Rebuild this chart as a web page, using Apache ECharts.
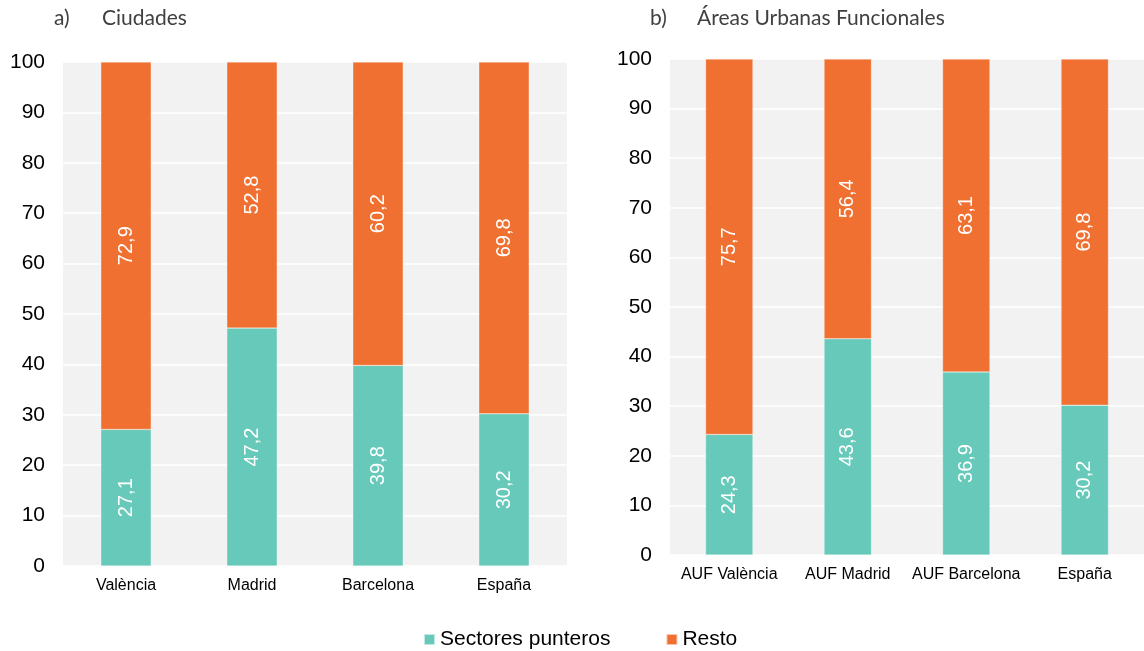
<!DOCTYPE html>
<html>
<head>
<meta charset="utf-8">
<script src="https://cdn.jsdelivr.net/npm/echarts@6/dist/echarts.min.js"></script>
<style>html,body{margin:0;padding:0;background:#fff;}#c{width:1144px;height:651px;}</style>
</head>
<body>
<div id="c"></div>
<script>
var catsA = ['València', 'Madrid', 'Barcelona', 'España'];
var catsB = ['AUF València', 'AUF Madrid', 'AUF Barcelona', 'España'];
var punterosA = [27.1, 47.2, 39.8, 30.2];
var restoA = [72.9, 52.8, 60.2, 69.8];
var punterosB = [24.3, 43.6, 36.9, 30.2];
var restoB = [75.7, 56.4, 63.1, 69.8];
var seriesNames = ['Sectores punteros', 'Resto'];
var titleA = ['a)', 'Ciudades'];
var titleB = ['b)', 'Áreas Urbanas Funcionales'];

var TEAL = '#66C9B9', ORANGE = '#EF7030';
var FONT = 'Liberation Sans, Arial, sans-serif';
var chart = echarts.init(document.getElementById('c'));
function fmt(p){ return p.value.toFixed(1).replace('.', ','); }
var lbl = {show:true, position:'inside', rotate:90, color:'#fff', fontSize:20, fontFamily:FONT, formatter:fmt};
function yAx(gi){
  return {type:'value', gridIndex:gi, min:0, max:100, interval:10,
    axisLine:{show:false}, axisTick:{show:false},
    axisLabel:{fontSize:21, color:'#000', margin:18, fontFamily:FONT},
    splitLine:{show:true, lineStyle:{color:'#fff', width:1.5}}};
}
function xAx(gi, cats){
  return {type:'category', gridIndex:gi, data:cats,
    axisLine:{show:false}, axisTick:{show:false},
    axisLabel:{fontSize:16, color:'#000', margin:12, interval:0, fontFamily:FONT}};
}
function bar(name, gi, data, color, stack){
  return {name:name, type:'bar', stack:stack, xAxisIndex:gi, yAxisIndex:gi, data:data,
    barWidth:'40%', itemStyle:{color:color, borderColor:'rgba(255,255,255,0.6)', borderWidth:0.5}, label:lbl};
}
var tStyle = {fontFamily:'Lato, sans-serif', fontSize:21, color:'#404040', fontWeight:'normal'};
chart.setOption({
  animation:false,
  title:[
    {text:titleA[0], left:49, top:3, textStyle:tStyle},
    {text:titleA[1], left:97, top:3, textStyle:tStyle},
    {text:titleB[0], left:645, top:3, textStyle:tStyle},
    {text:titleB[1], left:692, top:3, textStyle:tStyle}
  ],
  legend:{data:seriesNames, left:418, top:624, icon:'rect', itemWidth:11, itemHeight:11, itemGap:55,
    textStyle:{fontSize:21, color:'#000', fontFamily:FONT}},
  grid:[
    {left:63, top:62, width:504, height:504, show:true, backgroundColor:'#f2f2f2', borderWidth:0},
    {left:670, top:59, width:480, height:496, show:true, backgroundColor:'#f2f2f2', borderWidth:0}
  ],
  xAxis:[xAx(0, catsA), xAx(1, catsB)],
  yAxis:[yAx(0), yAx(1)],
  series:[
    bar(seriesNames[0], 0, punterosA, TEAL, 'a'),
    bar(seriesNames[1], 0, restoA, ORANGE, 'a'),
    bar(seriesNames[0], 1, punterosB, TEAL, 'b'),
    bar(seriesNames[1], 1, restoB, ORANGE, 'b')
  ]
});
</script>
</body>
</html>
